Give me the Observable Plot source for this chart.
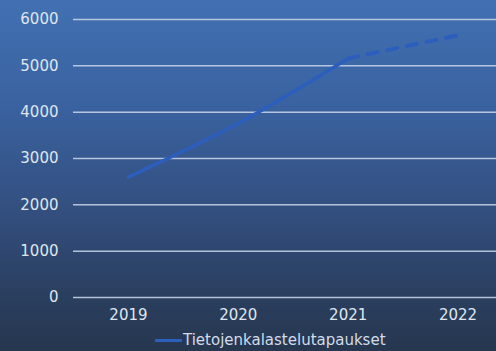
<!DOCTYPE html>
<html>
<head>
<meta charset="utf-8">
<script src="https://cdn.jsdelivr.net/npm/d3@7"></script>
<script src="https://cdn.jsdelivr.net/npm/@observablehq/plot@0.6"></script>
<style>
  html, body { margin: 0; padding: 0; }
  body {
    width: 496px; height: 351px; overflow: hidden;
    background: linear-gradient(180deg, #4170b2 0%, #3a62a0 30%, #334f7f 60%, #2a3e5e 85%, #26374f 100%);
    font-family: "DejaVu Sans", Verdana, sans-serif;
  }
  #chart svg { display: block; background: transparent; }
  #legend {
    height: 21px; display: flex; align-items: center; justify-content: flex-start;
    padding-left: 155px; color: #d3dcea; font-size: 15px; line-height: 21px;
  }
  #legend .swatch { width: 27px; height: 3px; background: #2c5fbd; margin-right: 1px; }
</style>
</head>
<body>
<div id="chart"></div>
<div id="legend"><span class="swatch"></span><span id="legend-label"></span></div>
<script>
const years = [2019, 2020, 2021, 2022];
const cases = [2600, 3760, 5160, 5660];
const seriesName = "Tietojenkalastelutapaukset";
const yTicks = [0, 1000, 2000, 3000, 4000, 5000, 6000];

const data = years.map((year, i) => ({year, value: cases[i]}));
const solid = data.filter(d => d.year <= 2021);
const dashed = data.filter(d => d.year >= 2021);

document.getElementById("legend-label").textContent = seriesName;

const chart = Plot.plot({
  width: 496,
  height: 330,
  marginLeft: 73,
  marginRight: 0,
  marginTop: 19,
  marginBottom: 33,
  style: {background: "transparent", fontFamily: "DejaVu Sans, Verdana, sans-serif", fontSize: "15px", color: "#dfe6f0"},
  x: {domain: [2018.5, 2022.35], label: null},
  y: {domain: [0, 6000], label: null},
  marks: [
    Plot.ruleY(yTicks, {stroke: "#c3d0e4", strokeWidth: 1.5, strokeOpacity: 0.9}),
    Plot.axisY({ticks: yTicks, tickFormat: d3.format("d"), tickSize: 0, tickPadding: 15, fill: "#dfe6f0", fontSize: 15, label: null}),
    Plot.axisX({ticks: years, tickFormat: d => String(d), tickSize: 0, tickPadding: 12, fill: "#dfe6f0", fontSize: 15, label: null}),
    Plot.line(solid, {x: "year", y: "value", stroke: "#2c5fbd", strokeWidth: 3.5, curve: "monotone-x", strokeLinecap: "round"}),
    Plot.line(dashed, {x: "year", y: "value", stroke: "#2c5fbd", strokeWidth: 4, strokeDasharray: "10,10", strokeLinecap: "round"})
  ]
});
document.getElementById("chart").appendChild(chart);
</script>
</body>
</html>
